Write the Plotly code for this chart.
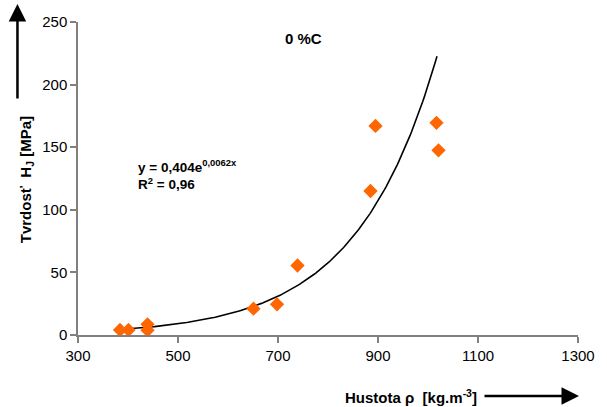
import numpy as np
import plotly.graph_objects as go

# Measured data (density kg/m3, hardness MPa)
density = [384, 401, 439, 439, 651, 698, 739, 885, 895, 1017, 1021]
hardness = [4, 4, 8.5, 3.8, 21, 24.5, 55.5, 115, 167, 169.5, 147.5]

# Trendline parameters shown on chart: y = a * e^(b x)
trend_a = 0.404
trend_b = 0.0062
trend_x_range = [383, 1018]

x_ticks = [300, 500, 700, 900, 1100, 1300]
y_ticks = [0, 50, 100, 150, 200, 250]

tx = np.linspace(trend_x_range[0], trend_x_range[1], 200)
ty = trend_a * np.exp(trend_b * tx)

fig = go.Figure()
fig.add_trace(go.Scatter(x=tx, y=ty, mode="lines",
                         line=dict(color="black", width=1.6), showlegend=False,
                         hoverinfo="skip"))
fig.add_trace(go.Scatter(x=density, y=hardness, mode="markers",
                         marker=dict(symbol="diamond", color="#FF6600", size=11),
                         showlegend=False))

axis_col = "#808080"
font_fam = "Arial, Liberation Sans, sans-serif"
fig.update_layout(
    width=607, height=407,
    margin=dict(l=78, r=17, t=22, b=72),
    paper_bgcolor="white", plot_bgcolor="white",
    font=dict(family=font_fam, color="black", size=14),
    xaxis=dict(range=[300, 1300], tickvals=x_ticks, showgrid=False, zeroline=False,
               showline=True, linecolor=axis_col, linewidth=1.5,
               ticks="outside", tickcolor=axis_col, ticklen=6, tickwidth=1.5,
               tickfont=dict(size=15, color="black")),
    yaxis=dict(range=[0, 250], tickvals=y_ticks, showgrid=False, zeroline=False,
               showline=True, linecolor=axis_col, linewidth=1.5,
               ticks="outside", tickcolor=axis_col, ticklen=6, tickwidth=1.5,
               tickfont=dict(size=15, color="black")),
)

def px2paper(px, py):
    return (px - 78) / 512.0, (335 - py) / 313.0

anns = []
x0, y0 = px2paper(309, 38)
anns.append(dict(x=x0, y=y0, xref="paper", yref="paper", text="<b>0 %C</b>",
                 showarrow=False, font=dict(size=15), xanchor="center", yanchor="middle"))
x0, y0 = px2paper(137, 174)
anns.append(dict(x=x0, y=y0, xref="paper", yref="paper",
                 text="<b>y = 0,404e<sup>0,0062x</sup><br>R<sup>2</sup> = 0,96</b>",
                 showarrow=False, font=dict(size=13.5), xanchor="left", yanchor="middle",
                 align="left"))
x0, y0 = px2paper(25, 180)
anns.append(dict(x=x0, y=y0, xref="paper", yref="paper",
                 text="<b>Tvrdosť  H<sub>J</sub> [MPa]</b>", textangle=-90,
                 showarrow=False, font=dict(size=15), xanchor="center", yanchor="middle"))
x0, y0 = px2paper(419, 396)
anns.append(dict(x=x0, y=y0, xref="paper", yref="paper",
                 text="<b>Hustota ρ  [kg.m<sup>-3</sup>]</b>",
                 showarrow=False, font=dict(size=15), xanchor="center", yanchor="middle"))
# arrows
x0, y0 = px2paper(16, 4)
anns.append(dict(x=x0, y=y0, xref="paper", yref="paper", ax=0, ay=96, text="",
                 showarrow=True, arrowhead=2, arrowsize=1.4, arrowwidth=2.5, arrowcolor="black"))
x0, y0 = px2paper(591, 396)
anns.append(dict(x=x0, y=y0, xref="paper", yref="paper", ax=-96, ay=0, text="",
                 showarrow=True, arrowhead=2, arrowsize=1.4, arrowwidth=2.5, arrowcolor="black"))
fig.update_layout(annotations=anns)

fig.write_html("out.html")
